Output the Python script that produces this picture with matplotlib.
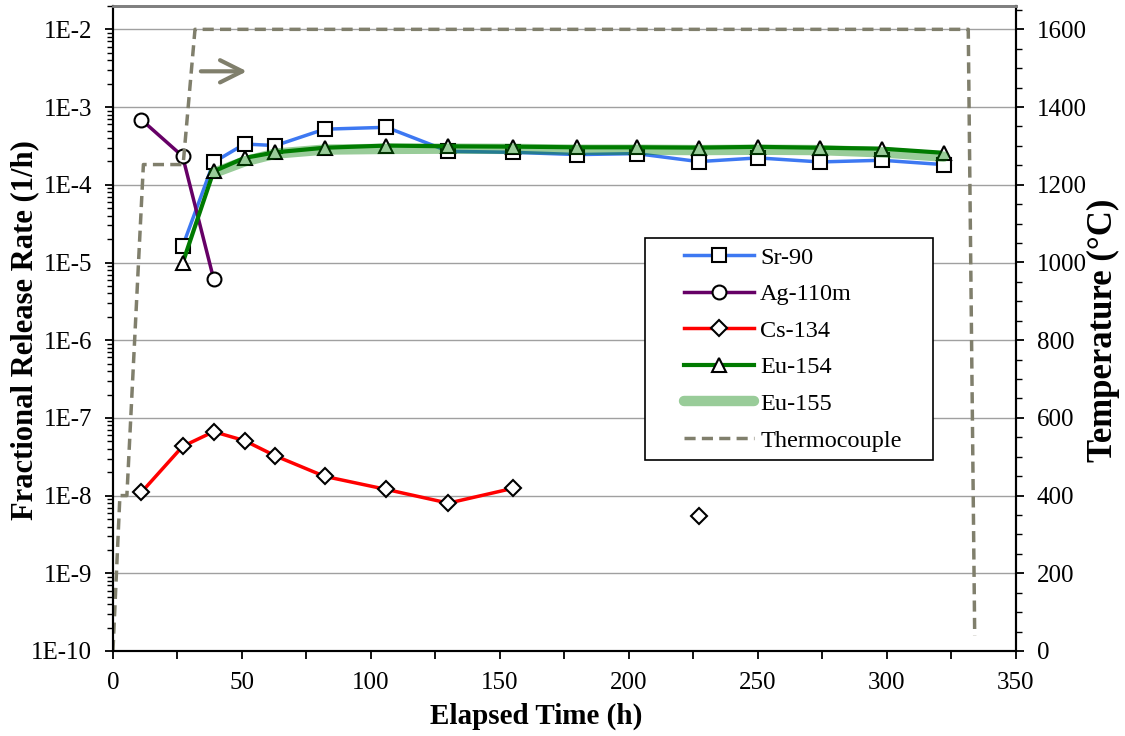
import numpy as np
import matplotlib
matplotlib.use("Agg")
import matplotlib.pyplot as plt
from matplotlib.patches import Rectangle
from matplotlib.ticker import FixedLocator, MultipleLocator, FuncFormatter, LogLocator, NullFormatter

plt.rcParams['font.family'] = ['Liberation Serif', 'DejaVu Serif']

# release rate data (1/h) vs elapsed time (h)
t_sr = [27, 39, 51, 63, 82, 106, 130, 155, 180, 203, 227, 250, 274, 298, 322]
sr90 = [1.62e-5, 1.95e-4, 3.35e-4, 3.2e-4, 5.2e-4, 5.5e-4, 2.7e-4, 2.62e-4,
        2.45e-4, 2.52e-4, 1.99e-4, 2.22e-4, 1.97e-4, 2.07e-4, 1.82e-4]

t_ag = [11, 27, 39]
ag110m = [6.9e-4, 2.33e-4, 6.2e-6]

t_cs = [11, 27, 39, 51, 63, 82, 106, 130, 155]
cs134 = [1.1e-8, 4.3e-8, 6.65e-8, 5.1e-8, 3.24e-8, 1.77e-8, 1.2e-8, 8.0e-9, 1.24e-8]
t_cs_extra = [227]
cs134_extra = [5.45e-9]

t_eu = [27, 39, 51, 63, 82, 106, 130, 155, 180, 203, 227, 250, 274, 298, 322]
eu154 = [9.8e-6, 1.49e-4, 2.22e-4, 2.62e-4, 3.0e-4, 3.2e-4, 3.13e-4, 3.1e-4,
         3.04e-4, 3.04e-4, 3.01e-4, 3.08e-4, 3.0e-4, 2.92e-4, 2.58e-4]

t_eu155 = [39, 51, 63, 82, 106, 130, 155, 180, 203, 227, 250, 274, 298, 322]
eu155 = [1.42e-4, 2.0e-4, 2.52e-4, 2.84e-4, 2.9e-4, 2.92e-4, 2.9e-4, 2.83e-4,
         2.83e-4, 2.8e-4, 2.83e-4, 2.8e-4, 2.62e-4, 2.3e-4]

# thermocouple temperature (C)
tc_time = [0, 2.7, 5.4, 11.8, 27.2, 31.8, 331.5, 334]
tc_temp = [0, 400, 400, 1252, 1252, 1600, 1600, 40]

tc_color = '#807f6c'

fig = plt.figure(figsize=(11.25, 7.36), dpi=100)
ax = fig.add_axes([0.1004, 0.1155, 0.8027, 0.8763])
ax2 = ax.twinx()

mk = dict(markerfacecolor='white', markeredgecolor='black', markeredgewidth=1.5)

l1, = ax.plot(t_sr, sr90, color='#3d78f2', lw=2.5, marker='s', ms=10, label='Sr-90', **mk)
l2, = ax.plot(t_ag, ag110m, color='#660066', lw=2.5, marker='o', ms=10, label='Ag-110m', **mk)
l3, = ax.plot(t_cs, cs134, color='#ff0000', lw=2.5, marker='D', ms=8.5, label='Cs-134', **mk)
ax.plot(t_cs_extra, cs134_extra, ls='none', marker='D', ms=8.5, **mk)
l4, = ax.plot(t_eu, eu154, color='#007a00', lw=3, marker='^', ms=10.5, label='Eu-154', **mk)
l5, = ax.plot(t_eu155, eu155, color='#008000', alpha=0.4, lw=7.5, solid_capstyle='round',
              label='Eu-155')

ax.set_yscale('log')
ax.set_ylim(1e-10, 2e-2)
ax.set_xlim(0, 350)
ax.yaxis.set_major_locator(FixedLocator([10.0 ** k for k in range(-10, -1)]))
ax.yaxis.set_major_formatter(FuncFormatter(lambda v, p: '1E%d' % round(np.log10(v))))
ax.yaxis.set_minor_locator(LogLocator(base=10, subs=np.arange(2, 10), numticks=20))
ax.yaxis.set_minor_formatter(NullFormatter())
ax.xaxis.set_major_locator(MultipleLocator(50))
ax.xaxis.set_minor_locator(MultipleLocator(25))
ax.grid(axis='y', which='major', color='#a0a0a0', lw=1)
ax.set_axisbelow(True)

ax.tick_params(axis='y', which='major', direction='out', length=6, width=1.3, labelsize=18, pad=9)
ax.tick_params(axis='y', which='minor', direction='out', length=4, width=1)
ax.tick_params(axis='x', which='both', direction='out', length=6, width=1.3, labelsize=18, pad=9)

l6, = ax2.plot(tc_time, tc_temp, color=tc_color, lw=2.5, ls=(0, (3.2, 1.8)), label='Thermocouple')
ax2.set_ylim(0, 1660)
ax2.yaxis.set_major_locator(FixedLocator(np.arange(0, 1601, 200)))
ax2.yaxis.set_minor_locator(MultipleLocator(50))
ax2.tick_params(axis='y', which='major', direction='out', length=6, width=1.3, labelsize=18, pad=9)
ax2.tick_params(axis='y', which='minor', direction='out', length=4, width=1)

fig.text(536 / 1125, 1 - 716 / 736, 'Elapsed Time (h)', fontsize=21, fontweight='bold',
         ha='center', va='center')
fig.text(25 / 1125, 1 - 330 / 736, 'Fractional Release Rate (1/h)', fontsize=22,
         fontweight='bold', rotation=90, ha='center', va='center')
fig.text(1103 / 1125, 1 - 330 / 736, 'Temperature (°C)', fontsize=25,
         fontweight='bold', rotation=90, ha='center', va='center')

for a in (ax, ax2):
    a.spines['top'].set_color('#808080')
    a.spines['top'].set_linewidth(2)
    for s in ('left', 'right', 'bottom'):
        a.spines[s].set_linewidth(1.5)

ax2.annotate('', xy=(53, 1492), xytext=(33, 1492),
             arrowprops=dict(arrowstyle='->', color=tc_color, lw=3, mutation_scale=40))

# legend box drawn separately for the wide left margin
ax2.add_patch(Rectangle((0.589, 0.296), 0.319, 0.344, transform=ax2.transAxes,
                        facecolor='white', edgecolor='black', lw=1.2, zorder=9))
leg = ax2.legend(handles=[l1, l2, l3, l4, l5, l6], loc='upper left',
                 bbox_to_anchor=(0.632, 0.627), fontsize=17.5, frameon=False,
                 handlelength=2.9, labelspacing=0.6, borderpad=0,
                 handletextpad=0.25, borderaxespad=0)
leg.set_zorder(10)

fig.savefig('out.png', dpi=100)
